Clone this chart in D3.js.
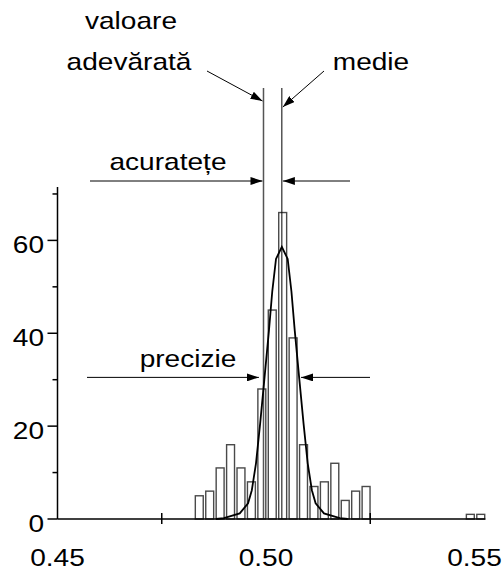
<!DOCTYPE html>
<html>
<head>
<meta charset="utf-8">
<script src="https://cdn.jsdelivr.net/npm/d3@7"></script>
<style>
  body { margin: 0; background: #fff; }
  text { font-family: "Liberation Sans", Arial, sans-serif; font-size: 24px; fill: #000; }
</style>
</head>
<body>
<svg width="503" height="573"></svg>
<script>
// histogram bins (centre of bin, count)
const binCenters = [0.484, 0.4865, 0.489, 0.4915, 0.494, 0.4965, 0.499, 0.5015, 0.504,
                    0.5065, 0.509, 0.5115, 0.514, 0.5165, 0.519, 0.5215, 0.524, 0.549, 0.5515];
const binCounts = [5, 6, 11, 16, 11, 8, 28, 45, 66, 39, 16, 7, 8, 12, 4, 6, 7, 1, 1];

// fitted curve
const curveX = [0.4880, 0.4899, 0.4937, 0.4957, 0.4966, 0.4976, 0.4986, 0.4996, 0.5007, 0.5015,
                0.5024, 0.5038, 0.5052, 0.5061, 0.5069, 0.5080, 0.5090, 0.5100, 0.5110, 0.5119,
                0.5139, 0.5177, 0.5196];
const curveY = [0, 0.2, 1.2, 3.4, 6.2, 12, 20.6, 30, 40.5, 49,
                56, 58.6, 56, 49, 40.5, 30, 20.6, 12, 6.2, 3.4,
                1.2, 0.2, 0];

const xLabels = [0.45, 0.50, 0.55];
const xTicks = [0.475, 0.525];
const yMajor = [0, 20, 40, 60];
const yMinor = [10, 30, 50, 70];

const trueValue = 0.4994;
const meanValue = 0.5038;
const precisionLeft = 0.4983;
const precisionRight = 0.5084;
const precisionLevel = 30.5;

let svg = d3.select("svg");

let x = d3.scaleLinear().domain([0.45, 0.55]).range([57.5, 474.5]);
let y = d3.scaleLinear().domain([0, 71.5]).range([519, 187]);

let barHalf = 0.00095;
let sx = 1.17; // text in the original is drawn a bit wide

function addText(px, py, str, anchor) {
  svg.append("text")
    .attr("transform", "translate(" + px + "," + py + ") scale(" + sx + ",1)")
    .attr("text-anchor", anchor || "middle")
    .text(str);
}

// arrow head
svg.append("defs").append("marker")
  .attr("id", "arrow")
  .attr("viewBox", "0 0 12 8")
  .attr("refX", 12)
  .attr("refY", 4)
  .attr("markerWidth", 12)
  .attr("markerHeight", 8)
  .attr("markerUnits", "userSpaceOnUse")
  .attr("orient", "auto")
  .append("path")
  .attr("d", "M0,0 L12,4 L0,8 Z")
  .attr("fill", "#000");

// bars
svg.append("g")
  .selectAll("rect")
  .data(binCounts)
  .enter().append("rect")
  .attr("x", function(d, i) { return x(binCenters[i] - barHalf); })
  .attr("width", function(d, i) { return x(binCenters[i] + barHalf) - x(binCenters[i] - barHalf); })
  .attr("y", function(d) { return y(d); })
  .attr("height", function(d) { return y(0) - y(d); })
  .attr("fill", "#fff")
  .attr("stroke", "#4a4a4a")
  .attr("stroke-width", 1.4);

// vertical lines: true value and mean
svg.append("line")
  .attr("x1", x(trueValue)).attr("x2", x(trueValue))
  .attr("y1", 88).attr("y2", y(0))
  .attr("stroke", "#555").attr("stroke-width", 1.5);
svg.append("line")
  .attr("x1", x(meanValue)).attr("x2", x(meanValue))
  .attr("y1", 88).attr("y2", y(0))
  .attr("stroke", "#000").attr("stroke-width", 1);

// curve
let line = d3.line()
  .x(function(d, i) { return x(curveX[i]); })
  .y(function(d) { return y(d); });
svg.append("path")
  .datum(curveY)
  .attr("d", line)
  .attr("fill", "none")
  .attr("stroke", "#000")
  .attr("stroke-width", 1.8);

// axes
svg.append("line")
  .attr("x1", x(0.45)).attr("x2", x(0.5526))
  .attr("y1", y(0)).attr("y2", y(0))
  .attr("stroke", "#000").attr("stroke-width", 1.5);
svg.append("line")
  .attr("x1", x(0.45)).attr("x2", x(0.45))
  .attr("y1", y(0)).attr("y2", y(71.5))
  .attr("stroke", "#000").attr("stroke-width", 1.5);

svg.append("g").selectAll("line")
  .data(xTicks)
  .enter().append("line")
  .attr("x1", function(d) { return x(d); })
  .attr("x2", function(d) { return x(d); })
  .attr("y1", y(0) - 6).attr("y2", y(0) + 5)
  .attr("stroke", "#000").attr("stroke-width", 1.5);

svg.append("g").selectAll("line")
  .data(yMajor)
  .enter().append("line")
  .attr("x1", x(0.45) - 10).attr("x2", x(0.45))
  .attr("y1", function(d) { return y(d); })
  .attr("y2", function(d) { return y(d); })
  .attr("stroke", "#000").attr("stroke-width", 1.5);

svg.append("g").selectAll("line")
  .data(yMinor)
  .enter().append("line")
  .attr("x1", x(0.45) - 5).attr("x2", x(0.45))
  .attr("y1", function(d) { return y(d); })
  .attr("y2", function(d) { return y(d); })
  .attr("stroke", "#000").attr("stroke-width", 1.5);

yMajor.forEach(function(d) {
  addText(44, y(d) + 13, d3.format("d")(d), "end");
});
xLabels.forEach(function(d) {
  addText(x(d), 566, d3.format(".2f")(d), "middle");
});

// annotations
addText(131, 29, "valoare");
addText(129, 70, "adevărată");
addText(371, 70, "medie");
addText(168, 170, "acuratețe");
addText(188, 367, "precizie");

function arrow(x1, y1, x2, y2) {
  svg.append("line")
    .attr("x1", x1).attr("y1", y1)
    .attr("x2", x2).attr("y2", y2)
    .attr("stroke", "#000").attr("stroke-width", 1)
    .attr("marker-end", "url(#arrow)");
}

arrow(207, 71, x(trueValue) - 1, 101);
arrow(324, 71, x(meanValue) + 1, 107);

arrow(90, 181, x(trueValue) - 1, 181);
arrow(350, 181, x(meanValue) + 1, 181);

arrow(87, y(precisionLevel), x(precisionLeft), y(precisionLevel));
arrow(370, y(precisionLevel), x(precisionRight), y(precisionLevel));
</script>
</body>
</html>
